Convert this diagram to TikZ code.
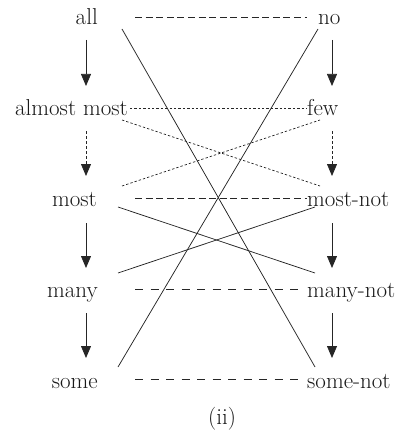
\documentclass[tikz,border=0pt]{standalone}
\usetikzlibrary{arrows.meta}
\begin{document}
\begin{tikzpicture}[x=1pt,y=-1pt,
  lbl/.style={inner sep=0pt,font=\fontsize{23}{27}\selectfont,text=black!90},
  ln/.style={line width=0.75pt,black!85},
  dashA/.style={ln,dash pattern=on 7pt off 3.6pt},
  dashB/.style={ln,dash pattern=on 8pt off 7.5pt},
  dotL/.style={ln,dash pattern=on 2.4pt off 2pt},
  arr/.style={ln,-{Triangle[length=12pt,width=10pt]}},
  darr/.style={arr,dash pattern=on 2.5pt off 2.5pt}]
\useasboundingbox (0,0) rectangle (399,433);
% left column
\node[lbl,anchor=base east] (all)   at (98,25)  {all};
\node[lbl,anchor=base east] (amost) at (128,115) {almost most};
\node[lbl,anchor=base east] (most)  at (97,206) {most};
\node[lbl,anchor=base east] (many)  at (98,297) {many};
\node[lbl,anchor=base east] (some)  at (98,388) {some};
% right column
\node[lbl,anchor=base west] (no)      at (318,25)  {no};
\node[lbl,anchor=base west] (few)     at (307,115) {few};
\node[lbl,anchor=base west] (mnot)    at (307,206) {most-not};
\node[lbl,anchor=base west] (manynot) at (307,297) {many-not};
\node[lbl,anchor=base west] (snot)    at (307,388) {some-not};
\node[lbl,anchor=center] (cap) at (222,419) {(ii)};
% horizontal links
\draw[dashA] ([shift={(37,-8)}]all.base east) -- ([shift={(-11,-8)}]no.base west);
\draw[dotL]  ([shift={(2,-7)}]amost.base east) -- ([shift={(0,-7)}]few.base west);
\draw[dashA] ([shift={(38,-8)}]most.base east) -- ([shift={(0,-8)}]mnot.base west);
\draw[dashB] ([shift={(37,-8)}]many.base east) -- ([shift={(-5,-8)}]manynot.base west);
\draw[dashB] ([shift={(37,-9)}]some.base east) -- ([shift={(-7,-9)}]snot.base west);
% dotted diagonals
\draw[dotL] ([shift={(-6,5)}]amost.base east) -- ([shift={(13,-20)}]mnot.base west);
\draw[dotL] ([shift={(25,-20)}]most.base east) -- ([shift={(13,5)}]few.base west);
% solid diagonals
\draw[ln] ([shift={(24,4)}]all.base east) -- ([shift={(8,-21)}]snot.base west);
\draw[ln] ([shift={(0,4)}]no.base west) -- ([shift={(20,-21)}]some.base east);
\draw[ln] ([shift={(21,1)}]most.base east) -- ([shift={(8,-24)}]manynot.base west);
\draw[ln] ([shift={(20,-24)}]many.base east) -- ([shift={(8,1)}]mnot.base west);
% left arrows
\draw[arr]  ([shift={(-12,15)}]all.base east) -- ([shift={(-42,-29)}]amost.base east);
\draw[darr] ([shift={(-42,16)}]amost.base east) -- ([shift={(-11,-30)}]most.base east);
\draw[arr]  ([shift={(-11,17)}]most.base east) -- ([shift={(-12,-29)}]many.base east);
\draw[arr]  ([shift={(-12,16)}]many.base east) -- ([shift={(-12,-30)}]some.base east);
% right arrows
\draw[arr]  ([shift={(14,15)}]no.base west) -- ([shift={(25,-29)}]few.base west);
\draw[darr] ([shift={(25,16)}]few.base west) -- ([shift={(25,-30)}]mnot.base west);
\draw[arr]  ([shift={(25,17)}]mnot.base west) -- ([shift={(25,-29)}]manynot.base west);
\draw[arr]  ([shift={(25,16)}]manynot.base west) -- ([shift={(25,-30)}]snot.base west);
\end{tikzpicture}
\end{document}
